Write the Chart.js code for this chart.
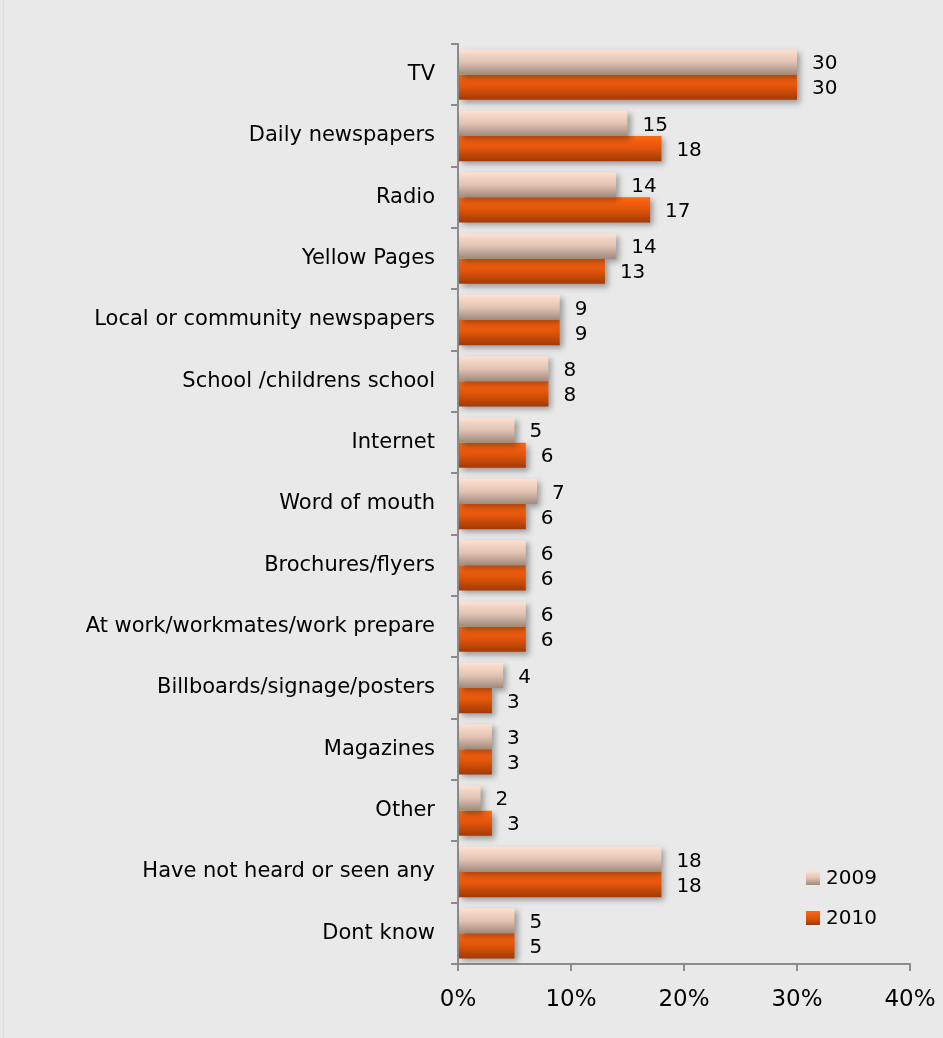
<!DOCTYPE html>
<html>
<head>
<meta charset="utf-8">
<script src="https://cdn.jsdelivr.net/npm/chart.js@4.4.1/dist/chart.umd.min.js"></script>
<style>
  html, body { margin: 0; padding: 0; background: #e9e9e9; }
  #wrap { position: relative; width: 943px; height: 1038px; }
  #edge { position: absolute; left: 3px; top: 0; width: 1px; height: 1038px; background: #dedede; }
</style>
</head>
<body>
<div id="wrap">
  <canvas id="chart" width="943" height="1038"></canvas>
  <div id="edge"></div>
</div>
<script>
// Where people saw or heard the campaign (% of respondents)
const categories = [
  'TV',
  'Daily newspapers',
  'Radio',
  'Yellow Pages',
  'Local or community newspapers',
  'School /childrens school',
  'Internet',
  'Word of mouth',
  'Brochures/flyers',
  'At work/workmates/work prepare',
  'Billboards/signage/posters',
  'Magazines',
  'Other',
  'Have not heard or seen any',
  'Dont know'
];
const values2009 = [30, 15, 14, 14, 9, 8, 5, 7, 6, 6, 4, 3, 2, 18, 5];
const values2010 = [30, 18, 17, 13, 9, 8, 6, 6, 6, 6, 3, 3, 3, 18, 5];
const seriesLabels = ['2009', '2010'];
const xTickValues = [0, 10, 20, 30, 40];

const FONT = "'DejaVu Sans', Verdana, sans-serif";
const CAT_PCT = 0.82;

// Vertical gradient stops for each series (top -> bottom)
const stops = [
  ['#fde2d2', '#e2c3b2', '#9f897d'],
  ['#ff6612', '#e0540a', '#a13a04']
];

function makeGradient(ctx, top, bottom, s) {
  const g = ctx.createLinearGradient(0, top, 0, bottom);
  g.addColorStop(0, s[0]);
  g.addColorStop(0.5, s[1]);
  g.addColorStop(1, s[2]);
  return g;
}

// Build a per-bar gradient from the bar's own top and bottom on the y scale
function barFill(context) {
  const chart = context.chart;
  const yScale = chart.scales.y;
  const s = stops[context.datasetIndex];
  if (!yScale || context.dataIndex === undefined) return s[1];
  const center = yScale.getPixelForValue(context.dataIndex);
  const band = (yScale.bottom - yScale.top) / categories.length;
  if (!Number.isFinite(center) || !Number.isFinite(band) || band <= 0) return s[1];
  const h = band * CAT_PCT / 2;
  const top = context.datasetIndex === 0 ? center - h : center;
  return makeGradient(chart.ctx, top, top + h, s);
}

const background = {
  id: 'background',
  beforeDraw(chart) {
    const c = chart.ctx;
    c.save();
    c.fillStyle = '#e9e9e9';
    c.fillRect(0, 0, chart.width, chart.height);
    c.restore();
  }
};

// Soft drop shadow under the bars
const barShadow = {
  id: 'barShadow',
  beforeDatasetsDraw(chart) {
    const c = chart.ctx;
    c.save();
    c.shadowColor = 'rgba(0,0,0,0.35)';
    c.shadowBlur = 6;
    c.shadowOffsetX = 3;
    c.shadowOffsetY = 3;
  },
  afterDatasetsDraw(chart) {
    chart.ctx.restore();
  }
};

// Value labels to the right of each bar
const valueLabels = {
  id: 'valueLabels',
  afterDatasetsDraw(chart) {
    const c = chart.ctx;
    c.save();
    c.font = '20px ' + FONT;
    c.fillStyle = '#000';
    c.textAlign = 'left';
    c.textBaseline = 'middle';
    chart.data.datasets.forEach((ds, di) => {
      chart.getDatasetMeta(di).data.forEach((el, i) => {
        c.fillText(String(ds.data[i]), el.x + 15, el.y + 2);
      });
    });
    c.restore();
  }
};

// Legend drawn inside the plot, lower right
const insideLegend = {
  id: 'insideLegend',
  afterDraw(chart) {
    const c = chart.ctx;
    c.save();
    c.font = '20px ' + FONT;
    c.textBaseline = 'middle';
    c.textAlign = 'left';
    const x = 806, ys = [871, 911], size = 14;
    chart.data.datasets.forEach((ds, di) => {
      const y = ys[di];
      c.fillStyle = makeGradient(c, y, y + size, stops[di]);
      c.fillRect(x, y, size, size);
      c.fillStyle = '#000';
      c.fillText(ds.label, x + 20, y + size / 2 + 1);
    });
    c.restore();
  }
};

const axisColor = '#8c8c8c';

new Chart(document.getElementById('chart'), {
  type: 'bar',
  data: {
    labels: categories,
    datasets: [
      { label: seriesLabels[0], data: values2009, backgroundColor: barFill,
        categoryPercentage: CAT_PCT, barPercentage: 1, borderWidth: 0 },
      { label: seriesLabels[1], data: values2010, backgroundColor: barFill,
        categoryPercentage: CAT_PCT, barPercentage: 1, borderWidth: 0 }
    ]
  },
  options: {
    indexAxis: 'y',
    responsive: false,
    animation: false,
    layout: { padding: { left: 0, right: 33, top: 44, bottom: 0 } },
    plugins: {
      legend: { display: false },
      tooltip: { enabled: false }
    },
    scales: {
      y: {
        type: 'category',
        offset: true,
        grid: {
          offset: true,
          drawOnChartArea: false,
          drawTicks: true,
          tickLength: 7,
          color: axisColor,
          lineWidth: 2
        },
        border: { display: true, color: axisColor, width: 2 },
        ticks: {
          color: '#000',
          font: { family: FONT, size: 21 },
          padding: 16,
          autoSkip: false
        },
        afterFit(scale) {
          scale.width = 458;
          scale.paddingTop = 0;
          scale.paddingBottom = 0;
        }
      },
      x: {
        min: 0,
        max: 40,
        afterBuildTicks(scale) { scale.ticks = xTickValues.map(v => ({ value: v })); },
        grid: {
          drawOnChartArea: false,
          drawTicks: true,
          tickLength: 7,
          color: axisColor,
          lineWidth: 2
        },
        border: { display: true, color: axisColor, width: 2 },
        ticks: {
          color: '#000',
          font: { family: FONT, size: 23 },
          padding: 15,
          maxRotation: 0,
          callback: v => v + '%'
        },
        afterFit(scale) {
          scale.height = 74;
          scale.paddingLeft = 0;
          scale.paddingRight = 0;
        }
      }
    }
  },
  plugins: [background, barShadow, valueLabels, insideLegend]
});
</script>
</body>
</html>
